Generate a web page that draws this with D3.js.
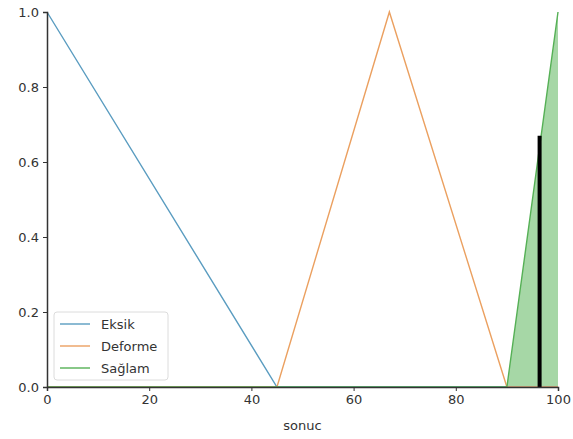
<!DOCTYPE html>
<html>
<head>
<meta charset="utf-8">
<script src="https://cdn.jsdelivr.net/npm/d3@7"></script>
<style>
html,body{margin:0;padding:0;background:#fff;}
svg{display:block;font-family:"DejaVu Sans",sans-serif;}
</style>
</head>
<body>
<svg id="chart" width="573" height="439"></svg>
<script>
const seriesNames = ["Eksik", "Deforme", "Sağlam"];
const seriesColors = ["#5a9cc0", "#eba060", "#55b055"];
const eksikX = [0, 0, 45, 100];
const eksikY = [1, 1, 0, 0];
const deformeX = [0, 45, 67, 90, 100];
const deformeY = [0, 0, 1, 0, 0];
const saglamX = [0, 90, 100];
const saglamY = [0, 0, 1];
const fillX = [90, 100, 100];
const fillY = [0, 1, 0];
const crispX = [96.4];
const crispY = [0.67];
const xTicks = [0, 20, 40, 60, 80, 100];
const yTicks = [0.0, 0.2, 0.4, 0.6, 0.8, 1.0];
const xLabel = "sonuc";

const svg = d3.select("#chart");
const L = 47, R = 558, T = 12, B = 387;
const x = d3.scaleLinear().domain([0, 100]).range([L, R]);
const y = d3.scaleLinear().domain([0, 1]).range([B, T]);

const pts = (xs, ys) => xs.map((v, i) => [v, ys[i]]);
const line = d3.line().x(d => x(d[0])).y(d => y(d[1]));

// fill
svg.append("path")
  .attr("d", line(pts(fillX, fillY)) + "Z")
  .attr("fill", "#2ca02c").attr("fill-opacity", 0.42).attr("stroke", "none");

const series = [pts(eksikX, eksikY), pts(deformeX, deformeY), pts(saglamX, saglamY)];
series.forEach((s, i) => {
  svg.append("path").attr("d", line(s))
    .attr("fill", "none").attr("stroke", seriesColors[i]).attr("stroke-width", 1.4);
});

// crisp line
svg.append("line")
  .attr("x1", x(crispX[0])).attr("x2", x(crispX[0]))
  .attr("y1", y(0)).attr("y2", y(crispY[0]))
  .attr("stroke", "#000").attr("stroke-width", 4);

// axes
const xAxis = svg.append("g").attr("transform", `translate(0,${B})`)
  .call(d3.axisBottom(x).tickValues(xTicks).tickFormat(d3.format("d")).tickSizeOuter(0).tickSize(4).tickPadding(4));
const yAxis = svg.append("g").attr("transform", `translate(${L},0)`)
  .call(d3.axisLeft(y).tickValues(yTicks).tickFormat(d3.format(".1f")).tickSizeOuter(0).tickSize(4).tickPadding(4));
[xAxis, yAxis].forEach(g => {
  g.select(".domain").attr("stroke", "#333").attr("stroke-width", 1.5);
  g.selectAll(".tick line").attr("stroke", "#333").attr("stroke-width", 1);
  g.selectAll("text").attr("fill", "#333").style("font-size", "13px").style("font-family", "DejaVu Sans");
});

svg.append("text").attr("x", (L + R) / 2).attr("y", 430)
  .attr("text-anchor", "middle").attr("fill", "#333")
  .style("font-size", "13px").text(xLabel);

// legend
const lg = svg.append("g");
lg.append("rect").attr("x", 54).attr("y", 312).attr("width", 114).attr("height", 68)
  .attr("rx", 3).attr("fill", "#fff").attr("fill-opacity", 0.8)
  .attr("stroke", "#dcdcdc").attr("stroke-width", 1);
seriesNames.forEach((n, i) => {
  const yy = 324 + i * 22;
  lg.append("line").attr("x1", 60).attr("x2", 90).attr("y1", yy).attr("y2", yy)
    .attr("stroke", seriesColors[i]).attr("stroke-width", 1.4);
  lg.append("text").attr("x", 101).attr("y", yy + 4.5).attr("fill", "#333")
    .style("font-size", "13px").text(n);
});
</script>
</body>
</html>
